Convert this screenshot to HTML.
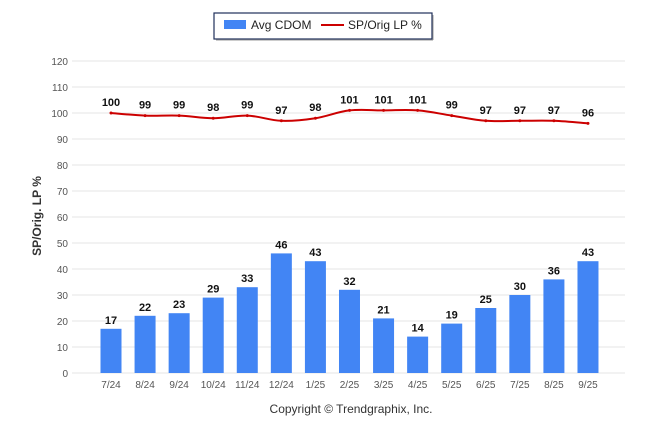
<!DOCTYPE html>
<html><head><meta charset="utf-8"><style>
body{margin:0;background:#fff;font-family:"Liberation Sans",Arial,sans-serif}
svg{display:block}
</style></head><body>
<svg id="c" width="646" height="434">
<rect x="214" y="13" width="218" height="26" fill="#fff" stroke="#1f2f5a" stroke-width="1.2"/>
<line x1="216" y1="40" x2="433" y2="40" stroke="#999" stroke-width="1"/>
<line x1="433" y1="15" x2="433" y2="40" stroke="#999" stroke-width="1"/>
<rect x="224" y="20" width="22" height="9" fill="#4285f4"/>
<text x="251" y="29" font-size="12" fill="#222">Avg CDOM</text>
<line x1="321" y1="25" x2="344" y2="25" stroke="#cc0000" stroke-width="2"/>
<text x="348" y="29" font-size="12" fill="#222">SP/Orig LP %</text>
<text transform="translate(41,216) rotate(-90)" text-anchor="middle" font-size="12" font-weight="bold" fill="#333">SP/Orig. LP %</text>
<text x="351" y="413" text-anchor="middle" font-size="12" fill="#333">Copyright © Trendgraphix, Inc.</text>
<g id="grid"></g><g id="bars"></g><g id="line"></g><g id="labels"></g>
</svg>
<script>
const categories=["7/24","8/24","9/24","10/24","11/24","12/24","1/25","2/25","3/25","4/25","5/25","6/25","7/25","8/25","9/25"];
const cdom=[17,22,23,29,33,46,43,32,21,14,19,25,30,36,43];
const spPct=[100,99,99,98,99,97,98,101,101,101,99,97,97,97,96];
const yTicks=[0,10,20,30,40,50,60,70,80,90,100,110,120];
const NS="http://www.w3.org/2000/svg";
const y=v=>373-v*2.6;
const x=i=>111+i*34.07;
function mk(t,a,p){const e=document.createElementNS(NS,t);for(const k in a)e.setAttribute(k,a[k]);p.appendChild(e);return e;}
const grid=document.getElementById('grid'),bars=document.getElementById('bars'),line=document.getElementById('line'),labels=document.getElementById('labels');
yTicks.forEach(v=>{
 const l=mk('line',{x1:72,x2:625,y1:y(v),y2:y(v),stroke:'#e6e6e6','stroke-width':1},grid);
 
 
 const t=mk('text',{x:68,y:y(v)+4,'text-anchor':'end','font-size':10,fill:'#555'},grid);t.textContent=v;
 
 
});
categories.forEach((c,i)=>{
 const b=mk('rect',{x:x(i)-10.5,y:y(cdom[i]),width:21,height:y(0)-y(cdom[i]),fill:'#4285f4'},bars);
 
 
 const t=mk('text',{x:x(i),y:y(cdom[i])-5,'text-anchor':'middle','font-size':11,'font-weight':'bold',fill:'#111'},labels);t.textContent=cdom[i];
 
 
 const xt=mk('text',{x:x(i),y:388,'text-anchor':'middle','font-size':10,fill:'#555'},grid);xt.textContent=c;
 
 
 const lt=mk('text',{x:x(i),y:y(spPct[i])-7,'text-anchor':'middle','font-size':11,'font-weight':'bold',fill:'#111'},labels);lt.textContent=spPct[i];
 
 
});
const pts=spPct.map((v,i)=>[x(i),y(v)]);
let d='M'+pts[0][0]+','+pts[0][1];
for(let i=0;i<pts.length-1;i++){
 const p0=pts[Math.max(0,i-1)],p1=pts[i],p2=pts[i+1],p3=pts[Math.min(pts.length-1,i+2)];
 const k=0.18;
 d+=` C${p1[0]+(p2[0]-p0[0])*k},${p1[1]+(p2[1]-p0[1])*k} ${p2[0]-(p3[0]-p1[0])*k},${p2[1]-(p3[1]-p1[1])*k} ${p2[0]},${p2[1]}`;
}
const pl=mk('path',{d:d,fill:'none',stroke:'#cc0000','stroke-width':2},line);


pts.forEach((p,i)=>{const c=mk('circle',{cx:p[0],cy:p[1],r:1.5,fill:'#cc0000'},line);
 
 });
</script>
</body></html>
